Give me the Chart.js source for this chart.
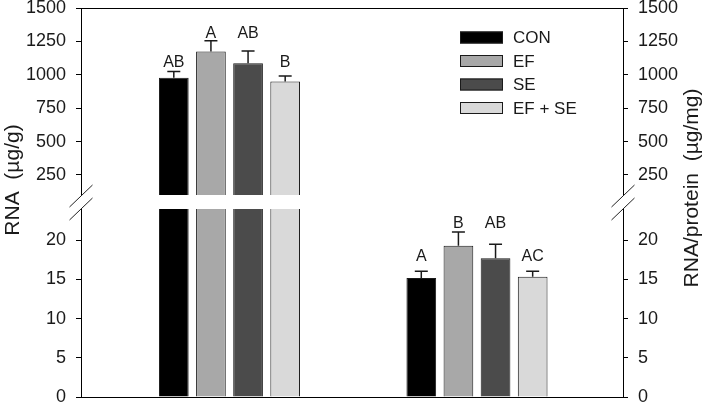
<!DOCTYPE html>
<html>
<head>
<meta charset="utf-8">
<script src="https://cdn.jsdelivr.net/npm/chart.js@4/dist/chart.umd.min.js"></script>
<style>
    html, body { margin: 0; padding: 0; background: #fff; }
    #wrap { width: 708px; height: 406px; }
</style>
</head>
<body>
<div id="wrap"><canvas id="rnaChart" width="708" height="406"></canvas></div>
<script>
// data
var groups = ['RNA', 'RNA/protein'];
var treatments = ['CON', 'EF', 'SE', 'EF + SE'];
var rnaMeans = [978, 1175, 1087, 950];
var rnaSd = [47, 80, 92, 40];
var rnaLetters = ['AB', 'A', 'AB', 'B'];
var rnaLetterLevel = [1055, 1275, 1275, 1055];
var ratioMeans = [15.2, 19.3, 17.7, 15.35];
var ratioSd = [0.85, 1.75, 1.8, 0.7];
var ratioLetters = ['A', 'B', 'AB', 'AC'];
var ratioLetterLevel = [17.4, 21.6, 21.6, 17.4];
var upperTicks = [250, 500, 750, 1000, 1250, 1500];
var lowerTicks = [0, 5, 10, 15, 20];
var upperRange = [100, 1500];
var lowerRange = [0, 24];
var colors = ['#000000', '#a8a8a8', '#4b4b4b', '#d9d9d9'];

var FONT = "'Liberation Sans', Arial, Helvetica, sans-serif";
Chart.defaults.font.family = FONT;
Chart.defaults.color = '#1a1a1a';

var datasets = [];
treatments.forEach(function (name, i) {
    datasets.push({
        label: name,
        panel: 'upper',
        data: [{ x: 1, y: rnaMeans[i] }],
        sd: [rnaSd[i]],
        letters: [rnaLetters[i]],
        letterLevel: [rnaLetterLevel[i]],
        yAxisID: 'yUpper',
        stack: name,
        backgroundColor: colors[i],
        borderColor: '#1a1a1a',
        borderWidth: 1
    });
});
treatments.forEach(function (name, i) {
    datasets.push({
        label: name,
        panel: 'lower',
        data: [{ x: 1, y: rnaMeans[i] }, { x: 2, y: ratioMeans[i] }],
        sd: [null, ratioSd[i]],
        letters: [null, ratioLetters[i]],
        letterLevel: [null, ratioLetterLevel[i]],
        yAxisID: 'yLower',
        stack: name,
        backgroundColor: colors[i],
        borderColor: '#1a1a1a',
        borderWidth: 1
    });
});

function noPadding(scale) {
    scale.width = scale.options.position === 'left' ? 81 : 85;
    scale.paddingTop = 0;
    scale.paddingBottom = 0;
}

function yAxis(position, range, tickValues, weight, stackWeight) {
    return {
        type: 'linear',
        position: position,
        stack: position,
        stackWeight: stackWeight,
        weight: weight,
        stacked: false,
        min: range[0],
        max: range[1],
        afterBuildTicks: function (scale) {
            scale.ticks = tickValues.map(function (v) { return { value: v }; });
        },
        afterFit: noPadding,
        grid: { drawOnChartArea: false, drawTicks: true, tickLength: 5, color: '#000', lineWidth: 1 },
        border: { display: true, color: '#000', width: 1 },
        ticks: {
            color: '#1a1a1a',
            font: { size: 18 },
            padding: 10,
            autoSkip: false,
            callback: function (v) { return String(v); }
        }
    };
}

function gapAxis(position, weight) {
    return {
        type: 'linear',
        position: position,
        stack: position,
        stackWeight: 14,
        weight: weight,
        display: false,
        min: 0,
        max: 1,
        afterFit: noPadding
    };
}

// clip each dataset to its own panel
var panelClip = {
    id: 'panelClip',
    beforeDatasetDraw: function (chart, args) {
        var s = chart.scales[args.meta.yAxisID];
        var ctx = chart.ctx;
        ctx.save();
        ctx.beginPath();
        ctx.rect(chart.chartArea.left, s.top, chart.chartArea.right - chart.chartArea.left, s.bottom - s.top);
        ctx.clip();
    },
    afterDatasetDraw: function (chart) {
        chart.ctx.restore();
    }
};

var decorations = {
    id: 'decorations',
    afterDatasetsDraw: function (chart) {
        var ctx = chart.ctx;
        chart.data.datasets.forEach(function (ds, di) {
            var meta = chart.getDatasetMeta(di);
            var s = chart.scales[ds.yAxisID];
            ds.data.forEach(function (pt, j) {
                if (ds.sd[j] == null) {
                    return;
                }
                var bar = meta.data[j];
                var yErr = s.getPixelForValue(pt.y + ds.sd[j]);
                ctx.save();
                ctx.strokeStyle = '#1a1a1a';
                ctx.lineWidth = 1.5;
                ctx.beginPath();
                ctx.moveTo(bar.x, bar.y);
                ctx.lineTo(bar.x, yErr);
                ctx.moveTo(bar.x - 6.5, yErr);
                ctx.lineTo(bar.x + 6.5, yErr);
                ctx.stroke();
                ctx.fillStyle = '#1a1a1a';
                ctx.font = '16px ' + FONT;
                ctx.textAlign = 'center';
                ctx.textBaseline = 'alphabetic';
                ctx.fillText(ds.letters[j], bar.x, s.getPixelForValue(ds.letterLevel[j]));
                ctx.restore();
            });
        });
    },
    afterDraw: function (chart) {
        var ctx = chart.ctx;
        var a = chart.chartArea;
        var up = chart.scales.yUpper;
        var lo = chart.scales.yLower;
        ctx.save();
        ctx.strokeStyle = '#000';
        ctx.lineWidth = 1;
        ctx.beginPath();
        ctx.moveTo(a.left, a.top + 0.5);
        ctx.lineTo(a.right, a.top + 0.5);
        ctx.moveTo(a.left, a.bottom + 0.5);
        ctx.lineTo(a.right, a.bottom + 0.5);
        ctx.stroke();

        // axis break marks
        ctx.strokeStyle = '#222';
        ctx.beginPath();
        [a.left, a.right].forEach(function (x) {
            [up.bottom + 1, lo.top].forEach(function (y) {
                ctx.moveTo(x - 11.5, y + 11);
                ctx.lineTo(x + 11.5, y - 11);
            });
        });
        ctx.stroke();

        // legend
        ctx.font = '17px ' + FONT;
        ctx.textAlign = 'left';
        ctx.textBaseline = 'middle';
        treatments.forEach(function (name, i) {
            var y = 37.5 + i * 23.5;
            ctx.fillStyle = colors[i];
            ctx.fillRect(460, y - 6, 43, 12);
            ctx.strokeStyle = '#1a1a1a';
            ctx.strokeRect(460.5, y - 5.5, 42, 11);
            ctx.fillStyle = '#1a1a1a';
            ctx.fillText(name, 513, y + 1);
        });

        // axis titles
        ctx.font = '21px ' + FONT;
        ctx.textAlign = 'center';
        ctx.textBaseline = 'middle';
        ctx.save();
        ctx.translate(13, 180);
        ctx.rotate(-Math.PI / 2);
        ctx.fillText('RNA  (\u00b5g/g)', 0, 0);
        ctx.restore();
        ctx.save();
        ctx.translate(692, 188);
        ctx.rotate(-Math.PI / 2);
        ctx.fillText('RNA/protein  (\u00b5g/mg)', 0, 0);
        ctx.restore();
        ctx.restore();
    }
};

new Chart(document.getElementById('rnaChart'), {
    type: 'bar',
    data: { datasets: datasets },
    options: {
        responsive: false,
        animation: false,
        devicePixelRatio: 1,
        categoryPercentage: 0.6,
        barPercentage: 0.8,
        layout: { padding: { left: 0, right: 0, top: 8, bottom: 9 } },
        plugins: { legend: { display: false }, tooltip: { enabled: false } },
        scales: {
            x: {
                type: 'linear',
                offset: false,
                min: 0.4,
                max: 2.59,
                display: false,
                afterBuildTicks: function (scale) {
                    scale.ticks = groups.map(function (g, i) { return { value: i + 1 }; });
                }
            },
            yUpper: yAxis('left', upperRange, upperTicks, 3, 187),
            yGap: gapAxis('left', 2),
            yLower: yAxis('left', lowerRange, lowerTicks, 1, 188),
            yUpperR: yAxis('right', upperRange, upperTicks, 1, 187),
            yGapR: gapAxis('right', 2),
            yLowerR: yAxis('right', lowerRange, lowerTicks, 3, 188)
        }
    },
    plugins: [panelClip, decorations]
});
</script>
</body>
</html>
